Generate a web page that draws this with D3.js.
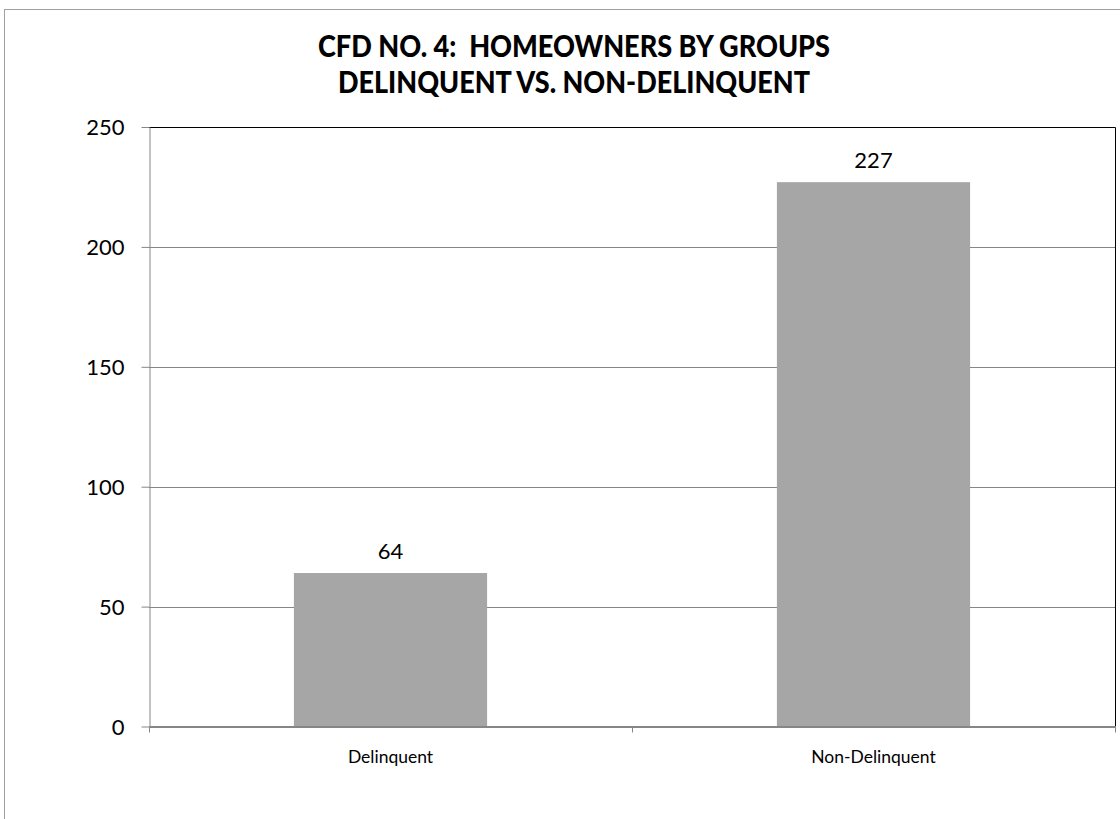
<!DOCTYPE html>
<html><head><meta charset="utf-8">
<script src="https://cdn.jsdelivr.net/npm/d3@7"></script>
<style>body{margin:0;background:#fff}svg{display:block}</style>
</head><body><svg id="c" width="1120" height="819"></svg>
<script>
const categories = ["Delinquent", "Non-Delinquent"];
const values = [64, 227];
const yTicks = [0, 50, 100, 150, 200, 250];
const titleLines = ["CFD NO. 4:  HOMEOWNERS BY GROUPS", "DELINQUENT VS. NON-DELINQUENT"];

const svg = d3.select("#c");
const font = "Lato, 'Open Sans', sans-serif";
const m = {left: 149, top: 127, right: 1115, bottom: 726.5};

// outer chart border
svg.append("rect").attr("x", 4.5).attr("y", 9.5).attr("width", 1130).attr("height", 830)
  .attr("fill", "none").attr("stroke", "#a0a0a0").attr("stroke-width", 1);

// title
svg.append("g").selectAll("text").data(titleLines).join("text")
  .attr("x", 574).attr("y", (d, i) => 57 + i * 36)
  .attr("text-anchor", "middle").attr("font-family", font).attr("font-weight", 900)
  .attr("font-size", 30).attr("fill", "#000").style("white-space", "pre")
  .attr("textLength", (d, i) => i === 0 ? 512 : 472).attr("lengthAdjust", "spacingAndGlyphs")
  .text(d => d);

const x = d3.scaleBand().domain(categories).range([m.left, m.right]).padding(0);
const y = d3.scaleLinear().domain([0, 250]).range([m.bottom, m.top]);
const barW = x.bandwidth() * 0.4;

// gridlines
svg.append("g").selectAll("line").data(yTicks.filter(t => t > 0 && t < 250)).join("line")
  .attr("x1", m.left).attr("x2", m.right).attr("y1", d => Math.round(y(d)) + 0.5).attr("y2", d => Math.round(y(d)) + 0.5)
  .attr("stroke", "#868686").attr("stroke-width", 1);

// plot area border top/right
svg.append("path").attr("d", `M${m.left},${m.top + 0.5}H${m.right + 0.5}V${m.bottom}`)
  .attr("fill", "none").attr("stroke", "#000").attr("stroke-width", 1);

// bars
svg.append("g").selectAll("rect").data(values).join("rect")
  .attr("x", (d, i) => x(categories[i]) + (x.bandwidth() - barW) / 2)
  .attr("width", barW)
  .attr("y", d => y(d)).attr("height", d => y(0) - y(d))
  .attr("fill", "#a6a6a6");

// data labels
svg.append("g").selectAll("text").data(values).join("text")
  .attr("x", (d, i) => x(categories[i]) + x.bandwidth() / 2)
  .attr("y", d => y(d) - 14)
  .attr("text-anchor", "middle").attr("font-family", font).attr("font-size", 22).attr("fill", "#000")
  .text(d => d);

// y axis
const yAxis = svg.append("g").attr("transform", `translate(${m.left + 0.5},0)`)
  .call(d3.axisLeft(y).tickValues(yTicks).tickSize(8).tickPadding(17).tickSizeOuter(0));
yAxis.select(".domain").attr("stroke", "#868686");
yAxis.selectAll(".tick line").attr("stroke", "#868686");
yAxis.selectAll(".tick text").attr("font-family", font).attr("font-size", 22).attr("fill", "#000").attr("dy", "0.35em");

// x axis
const xAxis = svg.append("g").attr("transform", `translate(0,${m.bottom})`)
  .call(d3.axisBottom(x).tickSize(0).tickPadding(24).tickSizeOuter(0));
xAxis.select(".domain").attr("stroke", "#868686").attr("stroke-width", 2);
xAxis.selectAll(".tick text").attr("font-family", font).attr("font-size", 17.5).attr("fill", "#000");
// category boundary ticks
const bounds = [m.left, m.left + x.step(), m.right];
xAxis.append("g").selectAll("line").data(bounds).join("line")
  .attr("x1", d => d + 0.5).attr("x2", d => d + 0.5).attr("y1", 0).attr("y2", 6)
  .attr("stroke", "#868686");
</script></body></html>
